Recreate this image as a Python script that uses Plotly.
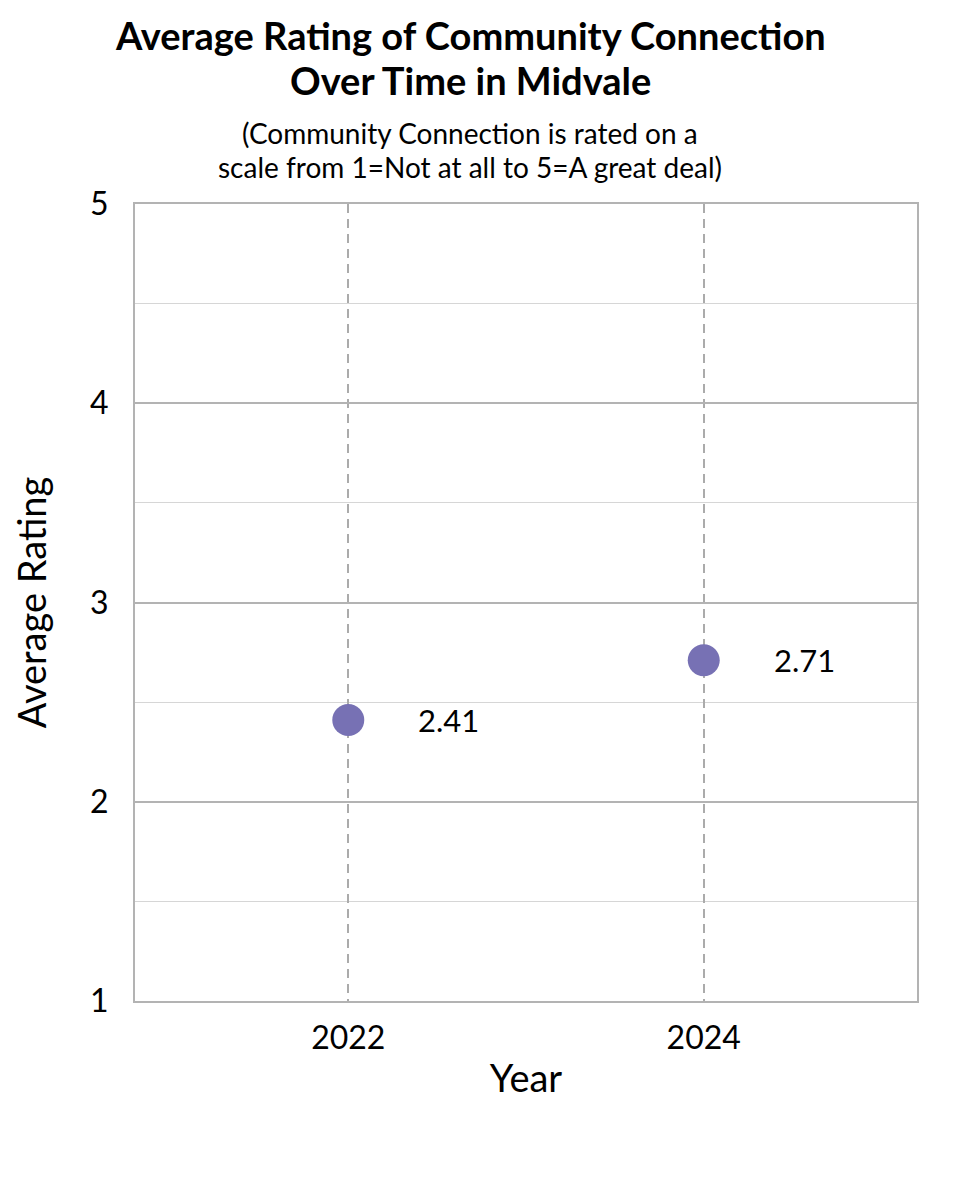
import plotly.graph_objects as go

years = ["2022", "2024"]
ratings = [2.41, 2.71]
labels = ["2.41", "2.71"]

title_lines = ["Average Rating of Community Connection", "Over Time in Midvale"]
subtitle_lines = ["(Community Connection is rated on a", "scale from 1=Not at all to 5=A great deal)"]

FONT = "Lato"
PLOT_TOP, PLOT_H, PLOT_L, PLOT_W = 204, 797, 135, 782  # page coords of plot area

fig = go.Figure()
fig.add_trace(go.Scatter(
    x=years, y=ratings, mode="markers",
    marker=dict(size=32, color="#7771B4"),
    hoverinfo="skip", showlegend=False,
))
for i, (yv, lab) in enumerate(zip(ratings, labels)):
    fig.add_annotation(x=i, y=yv, text=lab, showarrow=False, xanchor="left",
                       xshift=68, font=dict(family=FONT, size=31, color="black"))

cx = (470 - PLOT_L) / PLOT_W
for line, ypage in zip(title_lines, [35, 80]):
    fig.add_annotation(xref="paper", yref="paper", x=cx, y=1 + (PLOT_TOP - ypage) / PLOT_H,
                       text="<b>" + line + "</b>", showarrow=False,
                       xanchor="center", yanchor="middle",
                       font=dict(family=FONT, size=38, color="black"))
for line, ypage in zip(subtitle_lines, [133, 167]):
    fig.add_annotation(xref="paper", yref="paper", x=cx, y=1 + (PLOT_TOP - ypage) / PLOT_H,
                       text=line, showarrow=False,
                       xanchor="center", yanchor="middle",
                       font=dict(family=FONT, size=28, color="black"))

fig.update_layout(
    width=960, height=1200,
    margin=dict(l=127, r=51, t=196, b=207),
    paper_bgcolor="white", plot_bgcolor="white",
    font=dict(family=FONT, color="black"),
    xaxis=dict(
        type="category", range=[-0.6, 1.6],
        showgrid=True, gridcolor="#ababab", griddash="9px,6px", gridwidth=1.6,
        showline=True, linecolor="#b3b3b3", linewidth=2, mirror=True,
        ticks="", tickfont=dict(size=32), ticklabelstandoff=8,
        title=dict(text="Year", font=dict(size=38), standoff=10),
        zeroline=False,
    ),
    yaxis=dict(
        range=[1, 5], tickvals=[1, 2, 3, 4, 5], ticktext=["1", "2", "3", "4", "5"],
        showgrid=True, gridcolor="#b3b3b3", gridwidth=1.5,
        minor=dict(tickvals=[1.5, 2.5, 3.5, 4.5], showgrid=True, gridcolor="#d6d6d6", gridwidth=1),
        showline=True, linecolor="#b3b3b3", linewidth=2, mirror=True,
        ticks="", tickfont=dict(size=32), ticklabelstandoff=18,
        title=dict(text="Average Rating", font=dict(size=38), standoff=40),
        zeroline=False,
    ),
)
fig.write_html("out.html")
